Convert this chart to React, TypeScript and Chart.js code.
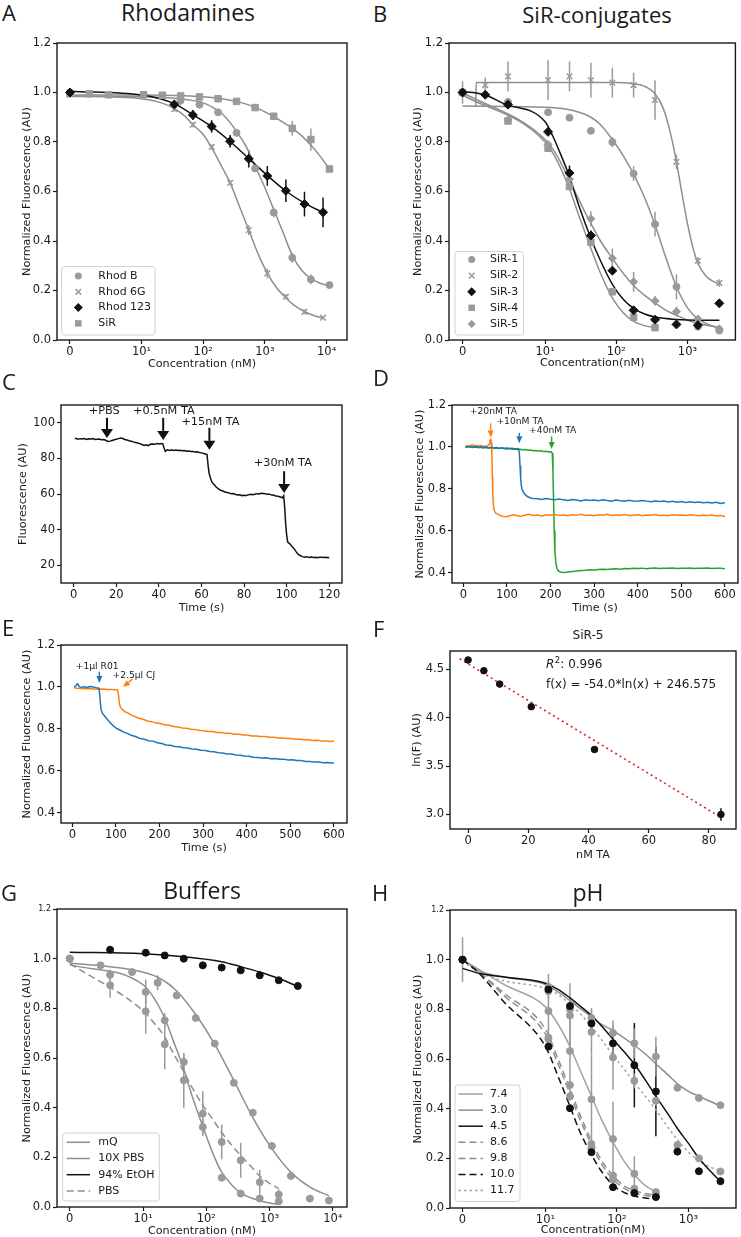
import React, { useEffect, useRef } from 'react';
import { Chart, registerables, LinearScale } from 'chart.js';

Chart.register(...registerables);

// ---------------- symlog scale (linear below 10 nM, log above) ----------------
const LIN_THRESH = 10;
const LIN_DECADES = 1.16;
function symT(v: number): number {
  const a = Math.abs(v);
  if (a <= LIN_THRESH) return (v / LIN_THRESH) * LIN_DECADES;
  return Math.sign(v) * (LIN_DECADES + Math.log10(a / LIN_THRESH));
}
function symInv(u: number): number {
  const a = Math.abs(u);
  if (a <= LIN_DECADES) return (u / LIN_DECADES) * LIN_THRESH;
  return Math.sign(u) * LIN_THRESH * Math.pow(10, a - LIN_DECADES);
}
class SymlogScale extends LinearScale {
  static id = 'symlog';
  static defaults = {};
  buildTicks() {
    return [];
  }
  getPixelForValue(value: number) {
    const a = symT(this.min), b = symT(this.max);
    return this.getPixelForDecimal((symT(value) - a) / (b - a));
  }
  getValueForPixel(pixel: number) {
    const a = symT(this.min), b = symT(this.max);
    return symInv(a + this.getDecimalForPixel(pixel) * (b - a));
  }
}
Chart.register(SymlogScale as any);

// ---------------- DATA ----------------
const yTicks12 = [0, 0.2, 0.4, 0.6, 0.8, 1.0, 1.2];
const concTicks4 = [0, 10, 100, 1000, 10000];
const concLabels4 = ['0', '10¹', '10²', '10³', '10⁴'];
const concTicks3 = [0, 10, 100, 1000];
const concLabels3 = ['0', '10¹', '10²', '10³'];

// A – Rhodamines
const aRhodBX = [0, 43, 87, 174, 347, 694, 1389, 2778, 5556, 11111];
const aRhodBY = [1.0, 0.968, 0.951, 0.92, 0.837, 0.693, 0.515, 0.332, 0.245, 0.222];
const aRhodBErr = [0, 0.02, 0.01, 0.01, 0.01, 0.012, 0.02, 0.02, 0.02, 0.01];
const aRhod6GX = [0, 34, 68, 137, 273, 547, 1094, 2188, 4375, 8750];
const aRhod6GY = [1.0, 0.933, 0.87, 0.78, 0.635, 0.444, 0.269, 0.175, 0.114, 0.09];
const aRhod6GErr = [0, 0.01, 0.01, 0.01, 0.01, 0.02, 0.02, 0.01, 0.01, 0.005];
const aRhod123X = [0, 34, 68, 137, 273, 547, 1094, 2188, 4375, 8750];
const aRhod123Y = [1.0, 0.952, 0.909, 0.863, 0.803, 0.732, 0.663, 0.603, 0.549, 0.516];
const aRhod123Err = [0, 0.012, 0.02, 0.025, 0.025, 0.035, 0.04, 0.045, 0.05, 0.06];
const aSiRX = [0, 2.7, 5.4, 10.8, 21.7, 43, 87, 174, 347, 694, 1389, 2778, 5556, 11111];
const aSiRY = [0.995, 0.995, 0.991, 0.991, 0.989, 0.986, 0.982, 0.975, 0.964, 0.939, 0.904, 0.855, 0.81, 0.691];
const aSiRErr = [0, 0, 0, 0, 0, 0, 0, 0, 0, 0.005, 0.01, 0.03, 0.045, 0];
const aFitRhodBX = [0, 10, 30, 60, 100, 150, 200, 300, 400, 500, 700, 1000, 1400, 2000, 2800, 4000, 5500, 8000, 11111];
const aFitRhodBY = [0.985, 0.983, 0.978, 0.97, 0.958, 0.937, 0.915, 0.865, 0.82, 0.78, 0.7, 0.615, 0.525, 0.43, 0.34, 0.28, 0.25, 0.228, 0.22];
const aFit6GX = [0, 10, 20, 34, 50, 68, 100, 137, 200, 273, 400, 547, 800, 1094, 1500, 2188, 3000, 4375, 6000, 8750];
const aFit6GY = [0.985, 0.975, 0.96, 0.935, 0.905, 0.87, 0.83, 0.777, 0.7, 0.635, 0.53, 0.445, 0.34, 0.27, 0.215, 0.17, 0.14, 0.115, 0.1, 0.088];
const aFit123X = [0, 10, 20, 34, 68, 137, 273, 547, 1094, 2188, 4375, 8750];
const aFit123Y = [1.005, 0.99, 0.975, 0.955, 0.91, 0.862, 0.802, 0.733, 0.665, 0.602, 0.553, 0.515];
const aFitSiRX = [0, 10, 50, 100, 200, 400, 700, 1000, 1500, 2000, 3000, 5000, 8000, 11111];
const aFitSiRY = [0.99, 0.99, 0.987, 0.983, 0.975, 0.96, 0.94, 0.922, 0.898, 0.878, 0.85, 0.8, 0.74, 0.69];

// B – SiR-conjugates
const bX = [0, 2.75, 5.5, 11, 22, 44, 88, 175, 350, 700, 1400, 2800];
const bSiR1X = [0, 5.5, 11, 22, 44, 88, 175, 350, 700, 1400, 2800];
const bSiR1Y = [1.0, 0.962, 0.92, 0.898, 0.845, 0.8, 0.672, 0.468, 0.215, 0.054, 0.038];
const bSiR1Err = [0, 0, 0, 0, 0.01, 0.02, 0.03, 0.05, 0.05, 0.01, 0.01];
const bSiR2Y = [1.0, 1.03, 1.065, 1.05, 1.065, 1.05, 1.04, 1.03, 0.97, 0.72, 0.32, 0.23];
const bSiR2Err = [0.045, 0.03, 0.06, 0.08, 0.06, 0.07, 0.06, 0.05, 0.08, 0.03, 0.015, 0.015];
const bSiR3Y = [1.0, 0.991, 0.951, 0.841, 0.675, 0.422, 0.28, 0.12, 0.082, 0.063, 0.06, 0.148];
const bSiR3Err = [0, 0, 0, 0.01, 0.03, 0.02, 0.01, 0, 0, 0, 0, 0];
const bSiR4X = [0, 5.5, 11, 22, 44, 88, 175, 350];
const bSiR4Y = [1.0, 0.885, 0.775, 0.62, 0.395, 0.195, 0.092, 0.05];
const bSiR5Y = [1.0, 0.889, 0.79, 0.65, 0.49, 0.33, 0.235, 0.158, 0.115, 0.085, 0.045];
const bSiR5Err = [0, 0.01, 0.01, 0.01, 0.03, 0.04, 0.04, 0.02, 0.02, 0.01, 0.01];
const bFit1X = [0, 10, 20, 30, 44, 60, 88, 125, 175, 250, 350, 500, 700, 1000, 1400, 2000, 2800];
const bFit1Y = [0.945, 0.94, 0.932, 0.92, 0.9, 0.87, 0.81, 0.745, 0.67, 0.575, 0.465, 0.33, 0.215, 0.13, 0.085, 0.062, 0.05];
const bFit2X = [1.6, 1.65, 10, 50, 100, 175, 250, 350, 450, 550, 700, 850, 1000, 1200, 1400, 1800, 2200, 2800];
const bFit2Y = [0.945, 1.04, 1.04, 1.04, 1.04, 1.035, 1.025, 0.995, 0.94, 0.86, 0.72, 0.58, 0.47, 0.37, 0.31, 0.26, 0.24, 0.225];
const bFit3X = [0, 2.75, 5, 10, 13, 16, 22, 30, 44, 60, 88, 125, 175, 250, 350, 700, 1400, 2800];
const bFit3Y = [1.005, 0.99, 0.955, 0.882, 0.82, 0.76, 0.66, 0.54, 0.41, 0.32, 0.225, 0.165, 0.128, 0.105, 0.093, 0.083, 0.08, 0.08];
const bFit4X = [0, 10, 15, 22, 30, 44, 60, 88, 125, 175, 250, 350];
const bFit4Y = [0.99, 0.8, 0.72, 0.61, 0.5, 0.37, 0.27, 0.17, 0.11, 0.075, 0.058, 0.05];
const bFit5X = [0, 10, 15, 22, 30, 44, 60, 88, 125, 175, 250, 350, 500, 700, 1000, 1400, 2000, 2800];
const bFit5Y = [1.0, 0.81, 0.74, 0.645, 0.565, 0.47, 0.4, 0.33, 0.27, 0.22, 0.18, 0.15, 0.12, 0.1, 0.08, 0.068, 0.058, 0.05];

// C – fluorescence trace (time s, fluorescence AU)
const cTrace: number[][] = [
  [0.5, 91.0], [1, 91.3], [2, 90.8], [3, 91.1], [4, 90.9], [5, 91.2], [6, 90.7], [7, 91.0], [8, 90.9], [9, 91.1],
  [10, 90.6], [11, 90.8], [12, 90.9], [13, 90.5], [14, 90.6], [15, 90.2], [16, 89.5], [17, 89.7], [18, 90.1], [19, 90.5],
  [20, 90.8], [21, 91.1], [22, 91.5], [23, 91.2], [24, 90.6], [25, 90.3], [26, 89.9], [27, 89.6], [28, 89.3], [29, 88.9],
  [30, 88.6], [31, 88.3], [32, 87.8], [33, 87.3], [34, 87.7], [35, 87.2], [36, 87.9], [37, 88.1], [38, 87.9], [39, 88.3],
  [40, 88.1], [41, 88.4], [41.8, 88.2], [42.4, 86.0], [43, 84.0], [44, 84.8], [45, 84.5], [46, 84.9], [47, 84.5], [48, 84.7],
  [49, 84.4], [50, 84.6], [51, 84.3], [52, 84.4], [53, 84.0], [54, 84.2], [55, 83.9], [56, 83.9], [57, 83.6], [58, 83.7],
  [59, 83.3], [60, 83.1], [61, 82.8], [62, 82.5], [62.6, 82.2], [63.1, 76.0], [63.6, 71.5], [64.3, 68.5], [65, 66.5], [66, 65.2],
  [67, 63.8], [68, 62.9], [69, 62.1], [70, 61.7], [71, 61.1], [72, 60.8], [73, 60.6], [74, 60.1], [75, 60.3], [76, 59.7],
  [77, 59.5], [78, 59.6], [79, 59.1], [80, 59.3], [81, 59.2], [82, 59.5], [83, 59.8], [84, 59.6], [85, 59.9], [86, 60.2],
  [87, 60.0], [88, 60.4], [89, 60.3], [90, 60.1], [91, 59.8], [92, 59.9], [93, 59.4], [94, 59.3], [95, 58.9], [96, 58.7],
  [97, 58.3], [98, 57.9], [98.6, 59.0], [99.1, 52.0], [99.5, 44.0], [100, 37.0], [100.5, 33.0], [101.5, 32.0], [102.5, 30.5], [103.5, 29.3],
  [104.5, 27.5], [105.5, 26.0], [106.5, 25.3], [107.5, 24.8], [108.5, 24.5], [109.5, 24.8], [110.5, 24.4], [111.5, 24.6], [112.5, 24.3], [113.5, 24.5],
  [114.5, 24.2], [115.5, 24.5], [116.5, 24.4], [117.5, 24.3], [118.5, 24.5], [119.5, 24.2], [120, 24.3],
];

// D – normalized traces
const dOrange20: number[][] = [
  [4, 1.0], [8, 1.003], [12, 1.001], [16, 1.006], [20, 1.01], [24, 1.008], [28, 1.005], [32, 1.007], [36, 1.004], [40, 1.006],
  [44, 1.003], [48, 1.005], [52, 1.002], [56, 1.006], [59, 1.012], [61, 1.03], [63, 1.036], [64.5, 1.02], [65.5, 0.95], [66.5, 0.86],
  [67.5, 0.78], [69, 0.72], [71, 0.695], [74, 0.685], [78, 0.68], [85, 0.672], [92, 0.668], [100, 0.666], [108, 0.672], [116, 0.676],
  [124, 0.671], [132, 0.668], [140, 0.674], [150, 0.678], [160, 0.672], [170, 0.675], [180, 0.67], [190, 0.676], [200, 0.673], [210, 0.677],
  [220, 0.672], [230, 0.675], [240, 0.671], [250, 0.676], [260, 0.673], [270, 0.678], [280, 0.672], [290, 0.675], [300, 0.671], [310, 0.676],
  [320, 0.674], [330, 0.678], [340, 0.672], [350, 0.675], [360, 0.673], [370, 0.677], [380, 0.672], [390, 0.674], [400, 0.676], [410, 0.671],
  [420, 0.675], [430, 0.673], [440, 0.677], [450, 0.672], [460, 0.674], [470, 0.671], [480, 0.676], [490, 0.673], [500, 0.675], [510, 0.672],
  [520, 0.676], [530, 0.673], [540, 0.671], [550, 0.674], [560, 0.672], [570, 0.675], [580, 0.67], [590, 0.672], [600, 0.668],
];
const dBlue10: number[][] = [
  [4, 1.0], [10, 1.004], [16, 1.001], [22, 0.999], [28, 1.002], [34, 0.998], [40, 1.0], [46, 0.997], [52, 0.999], [58, 0.996],
  [64, 0.998], [70, 0.995], [76, 0.997], [82, 0.994], [88, 0.996], [94, 0.993], [100, 0.995], [106, 0.992], [112, 0.993], [118, 0.99],
  [124, 0.992], [127, 0.99], [128.5, 0.97], [130, 0.91], [131.5, 0.85], [133, 0.815], [135, 0.795], [138, 0.783], [142, 0.772], [147, 0.763],
  [153, 0.757], [160, 0.754], [170, 0.752], [180, 0.749], [190, 0.753], [200, 0.75], [210, 0.748], [220, 0.751], [230, 0.747], [240, 0.744],
  [250, 0.749], [260, 0.746], [270, 0.742], [280, 0.747], [290, 0.744], [300, 0.746], [310, 0.743], [320, 0.748], [330, 0.744], [340, 0.741],
  [350, 0.746], [360, 0.743], [370, 0.741], [380, 0.745], [390, 0.742], [400, 0.74], [410, 0.744], [420, 0.741], [430, 0.738], [440, 0.742],
  [450, 0.739], [460, 0.741], [470, 0.737], [480, 0.74], [490, 0.736], [500, 0.739], [510, 0.735], [520, 0.738], [530, 0.734], [540, 0.737],
  [550, 0.733], [560, 0.736], [570, 0.732], [580, 0.735], [590, 0.73], [600, 0.733],
];
const dGreen40: number[][] = [
  [4, 1.0], [10, 0.998], [16, 1.001], [22, 0.997], [28, 0.999], [34, 0.996], [40, 0.998], [46, 0.995], [52, 0.997], [58, 0.994],
  [64, 0.996], [70, 0.993], [76, 0.995], [82, 0.992], [88, 0.994], [94, 0.991], [100, 0.99], [106, 0.992], [112, 0.989], [118, 0.99],
  [124, 0.987], [130, 0.989], [136, 0.986], [142, 0.987], [148, 0.984], [154, 0.985], [160, 0.982], [166, 0.983], [172, 0.98], [178, 0.981],
  [184, 0.978], [190, 0.979], [196, 0.976], [202, 0.977], [204, 0.97], [205.5, 0.88], [207, 0.74], [208.5, 0.6], [210, 0.5], [212, 0.45],
  [214, 0.425], [217, 0.41], [221, 0.404], [226, 0.401], [232, 0.4], [240, 0.402], [250, 0.405], [260, 0.407], [270, 0.41], [280, 0.411],
  [290, 0.413], [300, 0.412], [310, 0.415], [320, 0.416], [330, 0.414], [340, 0.417], [350, 0.418], [360, 0.416], [370, 0.419], [380, 0.418],
  [390, 0.42], [400, 0.419], [410, 0.421], [420, 0.418], [430, 0.42], [440, 0.422], [450, 0.419], [460, 0.421], [470, 0.42], [480, 0.422],
  [490, 0.419], [500, 0.421], [510, 0.42], [520, 0.422], [530, 0.419], [540, 0.421], [550, 0.42], [560, 0.422], [570, 0.419], [580, 0.421],
  [590, 0.42], [600, 0.418],
];

// E – normalized traces
const eBlueR01: number[][] = [
  [4, 1.0], [8, 1.004], [11, 1.015], [13, 1.012], [16, 1.0], [22, 0.998], [28, 1.0], [34, 0.997], [40, 1.002], [46, 1.001],
  [50, 0.998], [55, 0.996], [58, 0.995], [61, 0.994], [62.5, 0.97], [64, 0.93], [66, 0.89], [69, 0.875], [73, 0.863], [78, 0.85],
  [84, 0.836], [90, 0.822], [96, 0.81], [103, 0.8], [110, 0.793], [118, 0.784], [126, 0.778], [135, 0.769], [145, 0.763], [155, 0.754],
  [165, 0.75], [175, 0.743], [185, 0.741], [195, 0.733], [205, 0.73], [215, 0.723], [225, 0.721], [235, 0.715], [245, 0.714], [255, 0.709],
  [265, 0.708], [275, 0.703], [285, 0.702], [295, 0.697], [305, 0.696], [315, 0.691], [325, 0.69], [335, 0.685], [345, 0.684], [355, 0.679],
  [365, 0.679], [375, 0.675], [385, 0.674], [395, 0.67], [405, 0.669], [415, 0.664], [425, 0.663], [435, 0.66], [445, 0.661], [455, 0.657],
  [465, 0.658], [475, 0.654], [485, 0.655], [495, 0.651], [505, 0.652], [515, 0.648], [525, 0.648], [535, 0.644], [545, 0.644], [555, 0.641],
  [565, 0.641], [575, 0.638], [585, 0.639], [595, 0.636], [600, 0.637],
];
const eOrangeCJ: number[][] = [
  [4, 0.997], [10, 0.994], [20, 0.992], [30, 0.991], [40, 0.992], [50, 0.99], [60, 0.989], [70, 0.99], [80, 0.988], [90, 0.987],
  [100, 0.986], [104, 0.985], [106, 0.96], [108, 0.92], [110, 0.905], [113, 0.895], [117, 0.888], [122, 0.88], [128, 0.875], [135, 0.865],
  [143, 0.859], [152, 0.85], [162, 0.845], [172, 0.837], [182, 0.834], [192, 0.827], [202, 0.825], [212, 0.819], [222, 0.817], [232, 0.811],
  [242, 0.809], [252, 0.804], [262, 0.803], [272, 0.798], [282, 0.797], [292, 0.792], [302, 0.791], [312, 0.787], [322, 0.787], [332, 0.782],
  [342, 0.782], [352, 0.778], [362, 0.778], [372, 0.774], [382, 0.774], [392, 0.77], [402, 0.77], [412, 0.766], [422, 0.766], [432, 0.763],
  [442, 0.763], [452, 0.759], [462, 0.759], [472, 0.756], [482, 0.756], [492, 0.753], [502, 0.753], [512, 0.75], [522, 0.75], [532, 0.747],
  [542, 0.747], [552, 0.744], [562, 0.745], [572, 0.741], [582, 0.742], [592, 0.739], [600, 0.742],
];

// F – SiR-5 ln(F) vs nM TA
const fX = [0, 5.25, 10.5, 21, 42, 84];
const fY = [4.597, 4.486, 4.348, 4.114, 3.672, 3.0];
const fErr = [0, 0, 0, 0, 0, 0.065];
const fFitX = [-2.8, 84];
const fFitY = [4.61, 2.97];
const fR2 = ': 0.996';
const fEquation = 'f(x) = -54.0*ln(x) + 246.575';

// G – Buffers
const gX = [0, 5.5, 11, 22, 44, 88, 175, 350, 700, 1400];
const gMQY = [1.0, 0.935, 0.866, 0.752, 0.584, 0.322, 0.118, 0.054, 0.034, 0.023];
const gMQErr = [0, 0.02, 0.05, 0.03, 0.03, 0.03, 0.01, 0.01, 0.01, 0.015];
const gPBSY = [1.0, 0.893, 0.788, 0.655, 0.51, 0.376, 0.262, 0.188, 0.1, 0.05];
const gPBSErr = [0, 0.05, 0.09, 0.1, 0.11, 0.09, 0.07, 0.07, 0.05, 0.02];
const g10XX = [0, 4.2, 8.5, 17, 34, 68, 136, 272, 544, 1088, 2176, 4352, 8704];
const g10XY = [1.0, 0.973, 0.946, 0.903, 0.852, 0.761, 0.658, 0.5, 0.38, 0.246, 0.125, 0.034, 0.026];
const g10XErr = [0, 0.01, 0, 0.03, 0, 0, 0, 0, 0, 0, 0, 0, 0];
const gEtOHX = [5.5, 11, 22, 44, 88, 175, 350, 700, 1400, 2800];
const gEtOHY = [1.036, 1.024, 1.013, 1.0, 0.973, 0.964, 0.953, 0.933, 0.913, 0.89];
const gFitMQX = [0, 10, 15, 22, 30, 44, 60, 88, 125, 175, 250, 350, 700, 1400];
const gFitMQY = [0.975, 0.895, 0.84, 0.76, 0.67, 0.555, 0.445, 0.325, 0.22, 0.14, 0.09, 0.057, 0.025, 0.01];
const gFit10XX = [0, 4.2, 8.5, 17, 34, 68, 136, 272, 544, 1088, 2176, 4352, 8704];
const gFit10XY = [0.982, 0.972, 0.955, 0.925, 0.87, 0.775, 0.655, 0.51, 0.36, 0.235, 0.14, 0.08, 0.045];
const gFitEtOHX = [0, 10, 44, 175, 350, 700, 1400, 2800];
const gFitEtOHY = [1.026, 1.02, 1.008, 0.988, 0.968, 0.946, 0.92, 0.888];
const gFitPBSX = [0, 10, 15, 22, 30, 44, 60, 88, 125, 175, 250, 350, 500, 700, 1000, 1400];
const gFitPBSY = [0.98, 0.79, 0.74, 0.685, 0.62, 0.545, 0.48, 0.41, 0.355, 0.3, 0.25, 0.208, 0.165, 0.125, 0.095, 0.074];

// H – pH
const hLongX = [0, 11, 22, 44, 88, 175, 350, 700, 1400, 2800];
const hShortX = [0, 11, 22, 44, 88, 175, 350];
const h74Y = [1.0, 0.793, 0.632, 0.438, 0.278, 0.138, 0.064];
const h74Err = [0.09, 0.15, 0.2, 0.18, 0.15, 0.07, 0.01];
const h30Y = [1.0, 0.89, 0.8, 0.765, 0.705, 0.663, 0.61, 0.484, 0.443, 0.414];
const h30Err = [0, 0.02, 0.03, 0.04, 0.05, 0.06, 0.08, 0, 0, 0];
const h45Y = [1.0, 0.88, 0.813, 0.743, 0.663, 0.575, 0.469, 0.227, 0.148, 0.108];
const h45Err = [0, 0, 0.02, 0.02, 0.05, 0.17, 0.18, 0, 0, 0];
const h86Y = [1.0, 0.686, 0.495, 0.258, 0.131, 0.078, 0.051];
const h98Y = [1.0, 0.68, 0.45, 0.245, 0.115, 0.065, 0.045];
const h100Y = [1.0, 0.65, 0.402, 0.225, 0.084, 0.06, 0.044];
const h117Y = [1.0, 0.873, 0.775, 0.709, 0.606, 0.512, 0.432, 0.254, 0.2, 0.147];
const h117Err = [0, 0.03, 0.13, 0.09, 0.13, 0.03, 0.02, 0, 0, 0];
const hFitShortX = [0, 2, 5, 10, 15, 22, 30, 44, 60, 88, 125, 175, 250, 350];
const hFitLongX = [0, 2, 5, 10, 15, 22, 30, 44, 60, 88, 125, 175, 250, 350, 500, 700, 1000, 1400, 2000, 2800];
const hFit74Y = [1.0, 0.96, 0.9, 0.81, 0.74, 0.65, 0.56, 0.45, 0.36, 0.265, 0.19, 0.135, 0.09, 0.065];
const hFit30Y = [1.0, 0.955, 0.93, 0.9, 0.87, 0.835, 0.805, 0.77, 0.74, 0.715, 0.685, 0.655, 0.62, 0.58, 0.54, 0.5, 0.47, 0.45, 0.43, 0.41];
const hFit45Y = [0.965, 0.945, 0.93, 0.905, 0.88, 0.846, 0.815, 0.775, 0.735, 0.68, 0.63, 0.58, 0.515, 0.45, 0.385, 0.32, 0.26, 0.2, 0.15, 0.107];
const hFit86Y = [1.0, 0.95, 0.865, 0.72, 0.6, 0.48, 0.38, 0.27, 0.195, 0.13, 0.09, 0.07, 0.058, 0.05];
const hFit98Y = [1.0, 0.95, 0.855, 0.7, 0.58, 0.46, 0.36, 0.255, 0.18, 0.115, 0.08, 0.06, 0.05, 0.045];
const hFit100Y = [1.0, 0.945, 0.83, 0.65, 0.53, 0.41, 0.31, 0.215, 0.15, 0.092, 0.063, 0.048, 0.04, 0.035];
const hFit117Y = [0.995, 0.95, 0.915, 0.885, 0.86, 0.82, 0.785, 0.73, 0.68, 0.615, 0.56, 0.505, 0.45, 0.395, 0.33, 0.275, 0.225, 0.19, 0.165, 0.15];

// ---------------- STYLE ----------------
const FAM = '"DejaVu Sans"';
const INK = '#1a1a1a';
const GRAY = '#9a9a9a';
const GRAY_LINE = '#8e8e8e';
const LIGHT_LINE = '#a3a3a3';
const BLACK = '#111111';
const BLUE = '#1f77b4';
const ORANGE = '#ff7f0e';
const GREEN = '#2ca02c';
const RED = '#d62728';
const TICK_SIZE = 11.5;
const TITLE_SIZE = 11.2;
const DASH = [7, 4];
const DOT = [2.5, 3];

type Box = { x: number; y: number; w: number; h: number };
type Area = { L: number; T: number; R: number; B: number };
type Geom = { box: Box; area: Area; yTitleX: number; xTitleY: number };

const toXY = (xs: number[], ys: number[]) => xs.map((x, i) => ({ x, y: ys[i] }));

function pts(xs: number[], ys: number[], style: string, color: string, r: number, errs?: number[], bw = 1) {
  return {
    data: toXY(xs, ys), showLine: false, pointStyle: style, pointRadius: r,
    pointBackgroundColor: color, pointBorderColor: color, pointBorderWidth: bw,
    backgroundColor: color, borderColor: color, errs, order: 1,
  };
}
function fit(xs: number[], ys: number[], color: string, dash: number[] = [], w = 1.5) {
  return {
    data: toXY(xs, ys), showLine: true, pointRadius: 0, borderColor: color, backgroundColor: color,
    borderWidth: w, borderDash: dash, cubicInterpolationMode: 'monotone', fill: false, order: 2,
  };
}
function trace(pairs: number[][], color: string, w = 1.5) {
  return {
    data: pairs.map(([x, y]) => ({ x, y })), showLine: true, pointRadius: 0, borderColor: color,
    backgroundColor: color, borderWidth: w, tension: 0, fill: false, order: 2,
  };
}

type AxisSpec = { type?: string; min: number; max: number; ticks: number[]; labels: string[]; title: string; smallTop?: boolean };

function axis(a: AxisSpec, horizontal: boolean, size: number) {
  const top = a.ticks[a.ticks.length - 1];
  return {
    type: a.type || 'linear',
    min: a.min,
    max: a.max,
    afterBuildTicks: (s: any) => { s.ticks = a.ticks.map((v) => ({ value: v })); },
    afterFit: (s: any) => {
      if (horizontal) { s.height = size; s.paddingLeft = 0; s.paddingRight = 0; }
      else { s.width = size; s.paddingTop = 0; s.paddingBottom = 0; }
    },
    ticks: {
      color: INK,
      padding: horizontal ? 1 : 2,
      autoSkip: false,
      maxRotation: 0,
      minRotation: 0,
      font: (c: any) => (a.smallTop && c.tick && c.tick.value === top)
        ? { family: 'DejaVu Sans', size: 8 } : { family: 'DejaVu Sans', size: TICK_SIZE },
      callback: (_v: any, i: number) => a.labels[i],
    },
    grid: { drawOnChartArea: false, drawTicks: true, tickLength: 4, tickWidth: 1.2, tickColor: INK },
    border: { display: false },
    title: { display: true, text: a.title, color: INK, padding: 0, font: { family: 'DejaVu Sans', size: TITLE_SIZE, lineHeight: 1 } },
  };
}

const framePlugin = {
  id: 'frameBox',
  afterDatasetsDraw(chart: any) {
    const { left, top, right, bottom } = chart.chartArea;
    const ctx = chart.ctx;
    ctx.save();
    ctx.strokeStyle = INK;
    ctx.lineWidth = 1.4;
    ctx.strokeRect(left, top, right - left, bottom - top);
    ctx.restore();
  },
};
const errorBarPlugin = {
  id: 'errBars',
  beforeDatasetsDraw(chart: any) {
    const ctx = chart.ctx;
    const xs = chart.scales.x, ys = chart.scales.y;
    const { left, top, right, bottom } = chart.chartArea;
    ctx.save();
    ctx.beginPath();
    ctx.rect(left, top, right - left, bottom - top);
    ctx.clip();
    chart.data.datasets.forEach((ds: any) => {
      if (!ds.errs) return;
      ctx.strokeStyle = ds.borderColor;
      ctx.lineWidth = 1.5;
      ds.data.forEach((p: any, j: number) => {
        const e = ds.errs[j];
        if (!e) return;
        const px = xs.getPixelForValue(p.x);
        ctx.beginPath();
        ctx.moveTo(px, ys.getPixelForValue(p.y - e));
        ctx.lineTo(px, ys.getPixelForValue(p.y + e));
        ctx.stroke();
      });
    });
    ctx.restore();
  },
};
Chart.register(framePlugin as any, errorBarPlugin as any);

function drawMarker(ctx: CanvasRenderingContext2D, kind: string, x: number, y: number, r: number, color: string) {
  ctx.save();
  ctx.fillStyle = color;
  ctx.strokeStyle = color;
  ctx.lineWidth = 1.5;
  ctx.beginPath();
  if (kind === 'circle') { ctx.arc(x, y, r, 0, Math.PI * 2); ctx.fill(); }
  else if (kind === 'rect') { const s = r * Math.SQRT1_2; ctx.rect(x - s, y - s, 2 * s, 2 * s); ctx.fill(); }
  else if (kind === 'rectRot') { ctx.moveTo(x, y - r); ctx.lineTo(x + r, y); ctx.lineTo(x, y + r); ctx.lineTo(x - r, y); ctx.closePath(); ctx.fill(); }
  else if (kind === 'crossRot') { const s = r * Math.SQRT1_2; ctx.moveTo(x - s, y - s); ctx.lineTo(x + s, y + s); ctx.moveTo(x + s, y - s); ctx.lineTo(x - s, y + s); ctx.stroke(); }
  ctx.restore();
}

type LegendItem = { label: string; marker?: string; r?: number; color: string; dash?: number[] };
type LegendSpec = { x: number; y: number; w: number; h: number; row0: number; rowStep: number; markX: number; lineX1: number; lineX2: number; textX: number; items: LegendItem[] };

function legendPlugin(g: Geom, spec: LegendSpec) {
  return {
    id: 'boxLegend',
    afterDatasetsDraw(chart: any) {
      const ctx = chart.ctx as CanvasRenderingContext2D;
      const ox = g.box.x, oy = g.box.y;
      const bx = spec.x - ox, by = spec.y - oy, rr = 3;
      ctx.save();
      ctx.beginPath();
      ctx.moveTo(bx + rr, by);
      ctx.lineTo(bx + spec.w - rr, by);
      ctx.arcTo(bx + spec.w, by, bx + spec.w, by + rr, rr);
      ctx.lineTo(bx + spec.w, by + spec.h - rr);
      ctx.arcTo(bx + spec.w, by + spec.h, bx + spec.w - rr, by + spec.h, rr);
      ctx.lineTo(bx + rr, by + spec.h);
      ctx.arcTo(bx, by + spec.h, bx, by + spec.h - rr, rr);
      ctx.lineTo(bx, by + rr);
      ctx.arcTo(bx, by, bx + rr, by, rr);
      ctx.closePath();
      ctx.fillStyle = 'rgba(255,255,255,0.85)';
      ctx.fill();
      ctx.strokeStyle = '#d2d2d2';
      ctx.lineWidth = 1;
      ctx.stroke();
      spec.items.forEach((it, i) => {
        const cy = spec.row0 + i * spec.rowStep - oy;
        if (it.marker) {
          drawMarker(ctx, it.marker, spec.markX - ox, cy, it.r || 3.5, it.color);
        } else {
          ctx.save();
          ctx.strokeStyle = it.color;
          ctx.lineWidth = 1.5;
          ctx.setLineDash(it.dash || []);
          ctx.beginPath();
          ctx.moveTo(spec.lineX1 - ox, cy);
          ctx.lineTo(spec.lineX2 - ox, cy);
          ctx.stroke();
          ctx.restore();
        }
        ctx.fillStyle = INK;
        ctx.font = `11px ${FAM}`;
        ctx.textAlign = 'left';
        ctx.textBaseline = 'middle';
        ctx.fillText(it.label, spec.textX - ox, cy);
      });
      ctx.restore();
    },
  };
}

type Arrow = { x1: number; y1: number; x2: number; y2: number; color: string; lw: number; headW: number; headL: number };
type Note = { x: number; y: number; text: string; size: number };

function annotPlugin(arrows: Arrow[], notes: Note[]) {
  return {
    id: 'annots',
    afterDatasetsDraw(chart: any) {
      const ctx = chart.ctx as CanvasRenderingContext2D;
      const xs = chart.scales.x, ys = chart.scales.y;
      ctx.save();
      for (const a of arrows) {
        const x1 = xs.getPixelForValue(a.x1), y1 = ys.getPixelForValue(a.y1);
        const x2 = xs.getPixelForValue(a.x2), y2 = ys.getPixelForValue(a.y2);
        const ang = Math.atan2(y2 - y1, x2 - x1);
        const bx = x2 - Math.cos(ang) * a.headL, by = y2 - Math.sin(ang) * a.headL;
        ctx.strokeStyle = a.color;
        ctx.lineWidth = a.lw;
        ctx.beginPath();
        ctx.moveTo(x1, y1);
        ctx.lineTo(bx, by);
        ctx.stroke();
        ctx.fillStyle = a.color;
        ctx.beginPath();
        ctx.moveTo(x2, y2);
        ctx.lineTo(bx + Math.sin(ang) * a.headW / 2, by - Math.cos(ang) * a.headW / 2);
        ctx.lineTo(bx - Math.sin(ang) * a.headW / 2, by + Math.cos(ang) * a.headW / 2);
        ctx.closePath();
        ctx.fill();
      }
      for (const n of notes) {
        ctx.fillStyle = INK;
        ctx.font = `${n.size}px ${FAM}`;
        ctx.textAlign = 'center';
        ctx.textBaseline = 'middle';
        ctx.fillText(n.text, xs.getPixelForValue(n.x), ys.getPixelForValue(n.y));
      }
      ctx.restore();
    },
  };
}

function fTextPlugin(tx: number, y1v: number, y2v: number) {
  return {
    id: 'fText',
    afterDatasetsDraw(chart: any) {
      const ctx = chart.ctx as CanvasRenderingContext2D;
      const xs = chart.scales.x, ys = chart.scales.y;
      const x0 = xs.getPixelForValue(tx);
      const y1 = ys.getPixelForValue(y1v), y2 = ys.getPixelForValue(y2v);
      ctx.save();
      ctx.fillStyle = INK;
      ctx.textAlign = 'left';
      ctx.textBaseline = 'middle';
      ctx.font = `italic 12px ${FAM}`;
      ctx.fillText('R', x0, y1);
      let w = ctx.measureText('R').width + 0.5;
      ctx.font = `8.5px ${FAM}`;
      ctx.fillText('2', x0 + w, y1 - 4.5);
      w += ctx.measureText('2').width;
      ctx.font = `12px ${FAM}`;
      ctx.fillText(fR2, x0 + w, y1);
      ctx.fillText(fEquation, x0, y2);
      ctx.restore();
    },
  };
}

function makeConfig(g: Geom, datasets: any[], xa: AxisSpec, ya: AxisSpec, plugins: any[]) {
  const half = TITLE_SIZE / 2;
  const padLeft = g.yTitleX - half - g.box.x;
  const yW = g.area.L - g.box.x - padLeft;
  const padTop = g.area.T - g.box.y;
  const padRight = g.box.x + g.box.w - g.area.R;
  const xBottom = g.xTitleY + half - g.box.y;
  const xH = xBottom - (g.area.B - g.box.y);
  const padBottom = g.box.h - xBottom;
  return {
    type: 'scatter',
    data: { datasets },
    options: {
      animation: false,
      responsive: false,
      maintainAspectRatio: false,
      devicePixelRatio: 1,
      events: [],
      layout: { padding: { left: padLeft, top: padTop, right: padRight, bottom: padBottom } },
      plugins: { legend: { display: false }, tooltip: { enabled: false }, title: { display: false } },
      scales: { x: axis(xa, true, xH), y: axis(ya, false, yW) },
    },
    plugins,
  } as any;
}

const f1 = (v: number) => v.toFixed(1);
const f0 = (v: number) => v.toFixed(0);

// ---------------- PANELS ----------------
const geomA: Geom = { box: { x: 0, y: 30, w: 370, h: 345 }, area: { L: 57, T: 43, R: 347, B: 340 }, yTitleX: 27, xTitleY: 364 };
const geomB: Geom = { box: { x: 370, y: 30, w: 371, h: 345 }, area: { L: 449, T: 43, R: 738, B: 340 }, yTitleX: 418, xTitleY: 363 };
const geomC: Geom = { box: { x: 0, y: 395, w: 370, h: 222 }, area: { L: 61, T: 405, R: 342, B: 583 }, yTitleX: 23, xTitleY: 608 };
const geomD: Geom = { box: { x: 370, y: 395, w: 371, h: 222 }, area: { L: 452, T: 405, R: 738, B: 583 }, yTitleX: 420, xTitleY: 608 };
const geomE: Geom = { box: { x: 0, y: 636, w: 370, h: 222 }, area: { L: 61, T: 645, R: 347, B: 823 }, yTitleX: 27, xTitleY: 848 };
const geomF: Geom = { box: { x: 370, y: 645, w: 371, h: 218 }, area: { L: 450, T: 651, R: 737, B: 829 }, yTitleX: 417, xTitleY: 855 };
const geomG: Geom = { box: { x: 0, y: 898, w: 370, h: 339 }, area: { L: 57, T: 909, R: 347, B: 1207 }, yTitleX: 27, xTitleY: 1231 };
const geomH: Geom = { box: { x: 370, y: 898, w: 371, h: 339 }, area: { L: 450, T: 910, R: 740, B: 1208 }, yTitleX: 418, xTitleY: 1230 };

const NFA = 'Normalized Fluorescence (AU)';
const yNorm = (smallTop = false): AxisSpec => ({ min: 0, max: 1.2, ticks: yTicks12, labels: yTicks12.map(f1), title: NFA, smallTop });

function buildA() {
  const ds = [
    pts(aRhod123X, aRhod123Y, 'rectRot', BLACK, 4.5, aRhod123Err),
    pts(aRhodBX, aRhodBY, 'circle', GRAY, 3.5, aRhodBErr),
    pts(aRhod6GX, aRhod6GY, 'crossRot', GRAY, 4, aRhod6GErr, 1.5),
    pts(aSiRX, aSiRY, 'rect', GRAY, 4.6, aSiRErr),
    fit(aFit123X, aFit123Y, BLACK),
    fit(aFitRhodBX, aFitRhodBY, GRAY_LINE),
    fit(aFit6GX, aFit6GY, GRAY_LINE),
    fit(aFitSiRX, aFitSiRY, GRAY_LINE),
  ];
  const legend: LegendSpec = {
    x: 61.7, y: 266.5, w: 93.3, h: 68.5, row0: 276, rowStep: 15.8, markX: 78.3, lineX1: 0, lineX2: 0, textX: 98.3,
    items: [
      { label: 'Rhod B', marker: 'circle', r: 3.5, color: GRAY },
      { label: 'Rhod 6G', marker: 'crossRot', r: 4, color: GRAY },
      { label: 'Rhod 123', marker: 'rectRot', r: 4.5, color: BLACK },
      { label: 'SiR', marker: 'rect', r: 4.6, color: GRAY },
    ],
  };
  return makeConfig(geomA, ds,
    { type: 'symlog', min: -1.81, max: 21400, ticks: concTicks4, labels: concLabels4, title: 'Concentration (nM)' },
    yNorm(), [legendPlugin(geomA, legend)]);
}

function buildB() {
  const ds = [
    pts(bX, bSiR3Y, 'rectRot', BLACK, 4.5, bSiR3Err),
    pts(bSiR1X, bSiR1Y, 'circle', GRAY, 3.5, bSiR1Err),
    pts(bX, bSiR2Y, 'crossRot', GRAY, 4, bSiR2Err, 1.5),
    pts(bSiR4X, bSiR4Y, 'rect', GRAY, 4.6),
    pts(bSiR1X, bSiR5Y, 'rectRot', GRAY, 4, bSiR5Err),
    fit(bFit3X, bFit3Y, BLACK),
    fit(bFit1X, bFit1Y, GRAY_LINE),
    fit(bFit2X, bFit2Y, GRAY_LINE),
    fit(bFit4X, bFit4Y, GRAY_LINE),
    fit(bFit5X, bFit5Y, GRAY_LINE),
  ];
  const legend: LegendSpec = {
    x: 455, y: 251.5, w: 68.5, h: 83.5, row0: 259.5, rowStep: 16.1, markX: 471.7, lineX1: 0, lineX2: 0, textX: 490,
    items: [
      { label: 'SiR-1', marker: 'circle', r: 3.5, color: GRAY },
      { label: 'SiR-2', marker: 'crossRot', r: 4, color: GRAY },
      { label: 'SiR-3', marker: 'rectRot', r: 4.5, color: BLACK },
      { label: 'SiR-4', marker: 'rect', r: 4.6, color: GRAY },
      { label: 'SiR-5', marker: 'rectRot', r: 4, color: GRAY },
    ],
  };
  return makeConfig(geomB, ds,
    { type: 'symlog', min: -1.64, max: 4710, ticks: concTicks3, labels: concLabels3, title: 'Concentration(nM)' },
    yNorm(), [legendPlugin(geomB, legend)]);
}

function buildC() {
  const yt = [20, 40, 60, 80, 100];
  const xt = [0, 20, 40, 60, 80, 100, 120];
  const ar = (x: number, yTop: number, yTip: number): Arrow => ({ x1: x, y1: yTop, x2: x, y2: yTip, color: BLACK, lw: 2, headW: 12, headL: 9 });
  return makeConfig(geomC, [trace(cTrace, BLACK)],
    { min: -6, max: 126, ticks: xt, labels: xt.map(f0), title: 'Time (s)' },
    { min: 10, max: 110, ticks: yt, labels: yt.map(f0), title: 'Fluorescence (AU)' },
    [annotPlugin(
      [ar(15.6, 102.8, 91.4), ar(42, 102.8, 90.4), ar(63.7, 97.2, 84.8), ar(98.8, 72.8, 60.6)],
      [
        { x: 14.3, y: 106.5, text: '+PBS', size: 11.3 },
        { x: 42.3, y: 106.5, text: '+0.5nM TA', size: 11.3 },
        { x: 64.2, y: 100.6, text: '+15nM TA', size: 11.3 },
        { x: 98.2, y: 77.5, text: '+30nM TA', size: 11.3 },
      ],
    )]);
}

const timeTicks = [0, 100, 200, 300, 400, 500, 600];
const normTicks = [0.4, 0.6, 0.8, 1.0, 1.2];

function buildD() {
  const ar = (x: number, yTop: number, yTip: number, c: string): Arrow => ({ x1: x, y1: yTop, x2: x, y2: yTip, color: c, lw: 1.4, headW: 6, headL: 7 });
  return makeConfig(geomD, [trace(dBlue10, BLUE), trace(dOrange20, ORANGE), trace(dGreen40, GREEN)],
    { min: -26, max: 630, ticks: timeTicks, labels: timeTicks.map(f0), title: 'Time (s)' },
    { min: 0.35, max: 1.2, ticks: normTicks, labels: normTicks.map(f1), title: NFA },
    [annotPlugin(
      [ar(62.7, 1.112, 1.045, ORANGE), ar(128.4, 1.067, 1.017, BLUE), ar(202.5, 1.05, 0.99, GREEN)],
      [
        { x: 69, y: 1.167, text: '+20nM TA', size: 9.2 },
        { x: 130, y: 1.12, text: '+10nM TA', size: 9.2 },
        { x: 205, y: 1.077, text: '+40nM TA', size: 9.2 },
      ],
    )]);
}

function buildE() {
  return makeConfig(geomE, [trace(eBlueR01, BLUE), trace(eOrangeCJ, ORANGE)],
    { min: -26, max: 630, ticks: timeTicks, labels: timeTicks.map(f0), title: 'Time (s)' },
    { min: 0.35, max: 1.2, ticks: normTicks, labels: normTicks.map(f1), title: NFA },
    [annotPlugin(
      [
        { x1: 62, y1: 1.072, x2: 62, y2: 1.018, color: BLUE, lw: 1.4, headW: 6, headL: 7 },
        { x1: 138, y1: 1.037, x2: 116, y2: 1.0, color: ORANGE, lw: 1.4, headW: 6, headL: 7 },
      ],
      [
        { x: 57, y: 1.099, text: '+1µl R01', size: 9.2 },
        { x: 141, y: 1.056, text: '+2.5µl CJ', size: 9.2 },
      ],
    )]);
}

function buildF() {
  const yt = [3.0, 3.5, 4.0, 4.5];
  const xt = [0, 20, 40, 60, 80];
  const ds = [
    pts(fX, fY, 'circle', BLACK, 3.3, fErr),
    fit(fFitX, fFitY, RED, [2, 3.2], 1.6),
  ];
  return makeConfig(geomF, ds,
    { min: -6, max: 89, ticks: xt, labels: xt.map(f0), title: 'nM TA' },
    { min: 2.85, max: 4.69, ticks: yt, labels: yt.map(f1), title: 'ln(F) (AU)' },
    [fTextPlugin(25.9, 4.545, 4.34)]);
}

function buildG() {
  const ds = [
    pts(gEtOHX, gEtOHY, 'circle', BLACK, 3.5),
    pts(gX, gMQY, 'circle', GRAY, 3.5, gMQErr),
    pts(gX, gPBSY, 'circle', GRAY, 3.5, gPBSErr),
    pts(g10XX, g10XY, 'circle', GRAY, 3.5, g10XErr),
    fit(gFitEtOHX, gFitEtOHY, BLACK),
    fit(gFitMQX, gFitMQY, GRAY_LINE),
    fit(gFit10XX, gFit10XY, GRAY_LINE),
    fit(gFitPBSX, gFitPBSY, GRAY_LINE, DASH),
  ];
  const legend: LegendSpec = {
    x: 62.7, y: 1133, w: 96.6, h: 68, row0: 1142.3, rowStep: 16.2, markX: 0, lineX1: 66.7, lineX2: 90, textX: 98.3,
    items: [
      { label: 'mQ', color: GRAY_LINE },
      { label: '10X PBS', color: GRAY_LINE },
      { label: '94% EtOH', color: BLACK },
      { label: 'PBS', color: GRAY_LINE, dash: DASH },
    ],
  };
  return makeConfig(geomG, ds,
    { type: 'symlog', min: -1.74, max: 16800, ticks: concTicks4, labels: concLabels4, title: 'Concentration (nM)' },
    yNorm(true), [legendPlugin(geomG, legend)]);
}

function buildH() {
  const ds = [
    pts(hLongX, h45Y, 'circle', BLACK, 3.5, h45Err),
    pts(hShortX, h100Y, 'circle', BLACK, 3.5),
    pts(hShortX, h74Y, 'circle', GRAY, 3.5, h74Err),
    pts(hLongX, h30Y, 'circle', GRAY, 3.5, h30Err),
    pts(hShortX, h86Y, 'circle', GRAY, 3.5),
    pts(hShortX, h98Y, 'circle', GRAY, 3.5),
    pts(hLongX, h117Y, 'circle', GRAY, 3.5, h117Err),
    fit(hFitLongX, hFit45Y, BLACK),
    fit(hFitShortX, hFit100Y, BLACK, DASH),
    fit(hFitShortX, hFit74Y, LIGHT_LINE),
    fit(hFitLongX, hFit30Y, GRAY_LINE),
    fit(hFitShortX, hFit86Y, GRAY_LINE, DASH),
    fit(hFitShortX, hFit98Y, GRAY_LINE, DASH),
    fit(hFitLongX, hFit117Y, LIGHT_LINE, DOT),
  ];
  const legend: LegendSpec = {
    x: 455, y: 1085, w: 65, h: 116.5, row0: 1094, rowStep: 16.1, markX: 0, lineX1: 458.5, lineX2: 483, textX: 490,
    items: [
      { label: '7.4', color: LIGHT_LINE },
      { label: '3.0', color: GRAY_LINE },
      { label: '4.5', color: BLACK },
      { label: '8.6', color: GRAY_LINE, dash: DASH },
      { label: '9.8', color: GRAY_LINE, dash: DASH },
      { label: '10.0', color: BLACK, dash: DASH },
      { label: '11.7', color: LIGHT_LINE, dash: DOT },
    ],
  };
  return makeConfig(geomH, ds,
    { type: 'symlog', min: -1.51, max: 4620, ticks: concTicks3, labels: concLabels3, title: 'Concentration(nM)' },
    yNorm(true), [legendPlugin(geomH, legend)]);
}

const panels: { geom: Geom; build: () => any }[] = [
  { geom: geomA, build: buildA },
  { geom: geomB, build: buildB },
  { geom: geomC, build: buildC },
  { geom: geomD, build: buildD },
  { geom: geomE, build: buildE },
  { geom: geomF, build: buildF },
  { geom: geomG, build: buildG },
  { geom: geomH, build: buildH },
];

type Overlay = { text: string; cy: number; size: number; left?: number; center?: number; dejavu?: boolean };
const overlays: Overlay[] = [
  { text: 'A', left: 2, cy: 13, size: 22 },
  { text: 'B', left: 373, cy: 14, size: 22 },
  { text: 'C', left: 2, cy: 382, size: 22 },
  { text: 'D', left: 373, cy: 378, size: 22 },
  { text: 'E', left: 2, cy: 628, size: 22 },
  { text: 'F', left: 373, cy: 629, size: 22 },
  { text: 'G', left: 1, cy: 893, size: 22 },
  { text: 'H', left: 372, cy: 893, size: 22 },
  { text: 'Rhodamines', center: 188, cy: 13, size: 23 },
  { text: 'SiR-conjugates', center: 597, cy: 15, size: 22 },
  { text: 'Buffers', center: 202, cy: 891, size: 23 },
  { text: 'pH', center: 588, cy: 893, size: 23 },
  { text: 'SiR-5', center: 588, cy: 635, size: 12, dejavu: true },
];

function ChartPanel({ geom, build }: { geom: Geom; build: () => any }) {
  const ref = useRef<HTMLCanvasElement>(null);
  useEffect(() => {
    if (!ref.current) return;
    const chart = new Chart(ref.current, build());
    return () => chart.destroy();
  }, []);
  const b = geom.box;
  return (
    <canvas
      ref={ref}
      width={b.w}
      height={b.h}
      style={{ position: 'absolute', left: b.x, top: b.y, width: b.w, height: b.h }}
    />
  );
}

export default function App() {
  useEffect(() => {
    document.body.style.overflow = 'hidden';
  }, []);
  return (
    <div style={{ position: 'absolute', left: 0, top: 0, width: 741, height: 1237, background: '#ffffff', overflow: 'hidden' }}>
      {panels.map((p, i) => (
        <ChartPanel key={i} geom={p.geom} build={p.build} />
      ))}
      {overlays.map((o, i) => {
        const fam = o.dejavu ? '"DejaVu Sans", sans-serif' : '"Open Sans", "Noto Sans", sans-serif';
        const k = o.dejavu ? 0.48 : 0.53;
        const style: any = {
          position: 'absolute',
          top: o.cy - k * o.size,
          fontFamily: fam,
          fontSize: o.size,
          lineHeight: 1,
          color: INK,
          whiteSpace: 'nowrap',
        };
        if (o.center !== undefined) {
          style.left = o.center - 150;
          style.width = 300;
          style.textAlign = 'center';
        } else {
          style.left = o.left;
        }
        return <div key={'t' + i} style={style}>{o.text}</div>;
      })}
    </div>
  );
}
